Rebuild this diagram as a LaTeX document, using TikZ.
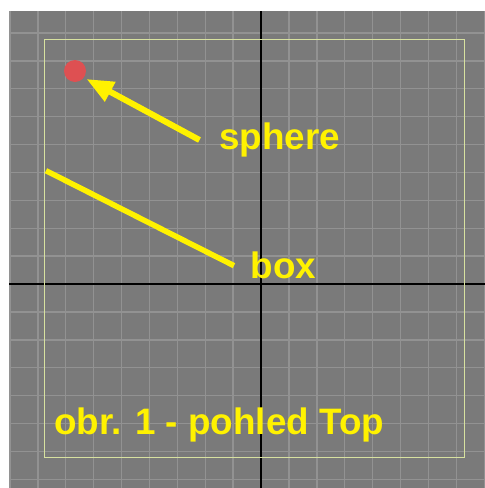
\documentclass[tikz,border=0pt]{standalone}
\usepackage{fontspec}
\setmainfont{Liberation Sans}
\usetikzlibrary{arrows.meta}
\definecolor{viewbg}{RGB}{122,122,122}
\definecolor{gridln}{RGB}{146,146,146}
\definecolor{framecol}{RGB}{215,225,160}
\definecolor{marker}{RGB}{255,242,0}
\definecolor{ball}{RGB}{222,80,82}
\tikzset{
  label/.style={font=\bfseries\fontsize{36.8}{42}\selectfont, text=marker, inner sep=0pt, anchor=base west},
  pointer/.style={draw=marker, line width=6pt},
}
\begin{document}
\begin{tikzpicture}[x=1pt,y=-1pt]
  \useasboundingbox (0,0) rectangle (485,488);
  % viewport background
  \fill[viewbg] (9,11) rectangle (485,488);
  % grid
  \begin{scope}
    \clip (9,11) rectangle (485,488);
    \foreach \k in {-9,...,8}
      \draw[gridln, line width=1.4pt] ({261+27.9*\k},11) -- ({261+27.9*\k},488);
    \foreach \k in {-10,...,8}
      \draw[gridln, line width=1.4pt] (9,{284+27.9*\k}) -- (485,{284+27.9*\k});
  \end{scope}
  % world axes
  \draw[black, line width=1.5pt] (261,11) -- (261,488);
  \draw[black, line width=1.5pt] (9,284) -- (485,284);
  % safe frame
  \draw[framecol, line width=1.5pt] (44.3,39.7) rectangle (464.3,457.3);
  % sphere seen from above
  \node[circle, fill=ball, minimum size=22pt, inner sep=0pt] (sph) at (75,71) {};
  % box seen edge-on
  \coordinate (boxA) at (46,170.7);
  \coordinate (boxB) at (234,265.7);
  \draw[marker, line width=5.5pt] (boxA) -- (boxB);
  % labels
  \node[label] (lsphere) at (219,149.5) {sphere};
  \node[label] (lbox) at (250.5,278.5) {box};
  \node[label] (ltitle) at (54,434.5) {obr. 1 - pohled Top};
  % pointer to the sphere
  \coordinate (tail) at (199.5,140);
  \coordinate (tip) at (86.5,79);
  \draw[pointer, -{Triangle[length=27pt,width=21pt]}] (tail) -- (tip);
\end{tikzpicture}
\end{document}
